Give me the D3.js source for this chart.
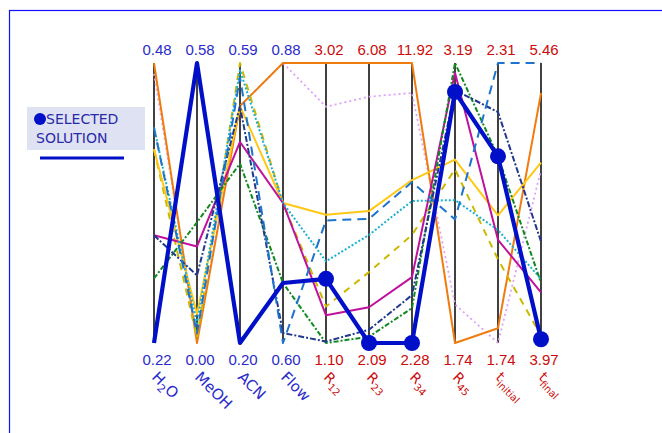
<!DOCTYPE html>
<html>
<head>
<meta charset="utf-8">
<script src="https://cdn.jsdelivr.net/npm/d3@7"></script>
<style>
  body { margin: 0; background: #fff; }
  svg { display: block; }
</style>
</head>
<body>
<script>
var width = 662;
var height = 433;

// axes: key, bottom (min) and top (max) values
var axisKeys = ["h2o", "meoh", "acn", "flow", "r12", "r23", "r34", "r45", "tini", "tfin"];
var axisMin = [0.22, 0.00, 0.20, 0.60, 1.10, 2.09, 2.28, 1.74, 1.74, 3.97];
var axisMax = [0.48, 0.58, 0.59, 0.88, 3.02, 6.08, 11.92, 3.19, 2.31, 5.46];
var minLabels = ["0.22", "0.00", "0.20", "0.60", "1.10", "2.09", "2.28", "1.74", "1.74", "3.97"];
var maxLabels = ["0.48", "0.58", "0.59", "0.88", "3.02", "6.08", "11.92", "3.19", "2.31", "5.46"];
// axis name: main text + subscript
var axisNames = [["H", "2", "O"], ["MeOH", "", ""], ["ACN", "", ""], ["Flow", "", ""],
                 ["R", "12", ""], ["R", "23", ""], ["R", "34", ""], ["R", "45", ""],
                 ["t", "initial", ""], ["t", "final", ""]];
var inputCount = 4;

// candidate solutions, one value per axis
var orangeSol  = [0.48, 0.00, 0.53, 0.88, 3.02, 6.08, 11.92, 1.74, 1.77, 5.30];
var magentaSol = [0.32, 0.20, 0.48, 0.74, 1.29, 2.60, 4.55, 3.14, 1.95, 4.24];
var goldSol    = [0.40, 0.06, 0.53, 0.74, 1.98, 3.97, 7.89, 2.69, 2.00, 4.93];
var pinkSol    = [0.47, 0.01, 0.53, 0.88, 2.72, 5.60, 10.89, 1.94, 1.74, 4.89];
var cyanSol    = [0.42, 0.04, 0.58, 0.74, 1.66, 3.63, 7.17, 2.48, 1.97, 4.31];
var blueSol    = [0.42, 0.02, 0.57, 0.60, 1.94, 3.86, 7.82, 2.38, 2.31, 5.46];
var navySol    = [0.32, 0.14, 0.53, 0.61, 1.11, 2.28, 3.93, 3.05, 2.21, 4.51];
var greenSol   = [0.28, 0.25, 0.45, 0.66, 1.10, 2.18, 3.48, 3.19, 2.12, 4.29];
var oliveSol   = [0.40, 0.01, 0.59, 0.74, 1.35, 3.10, 6.00, 2.64, 1.91, 4.01];
var selectedSol = [0.22, 0.58, 0.20, 0.66, 1.54, 2.09, 2.28, 3.04, 2.12, 3.99];

var series = [
    {values: pinkSol,    color: "#dea0fa", width: 1.8, dash: "2,3"},
    {values: orangeSol,  color: "#f07c10", width: 2,   dash: null},
    {values: oliveSol,   color: "#cdb800", width: 2,   dash: "7,6"},
    {values: goldSol,    color: "#ffc814", width: 2,   dash: null},
    {values: magentaSol, color: "#c0109c", width: 2,   dash: null},
    {values: cyanSol,    color: "#18b0d0", width: 2,   dash: "2,2"},
    {values: greenSol,   color: "#108a20", width: 2,   dash: "5,2,2,2"},
    {values: navySol,    color: "#22388e", width: 2,   dash: "6,2,2,2"},
    {values: blueSol,    color: "#1c74cc", width: 2,   dash: "9,6"}
];

var blueText = "#2a2acc";
var redText = "#cc0a0a";
var selColor = "#0010c8";

var svg = d3.select("body").append("svg")
    .attr("width", width)
    .attr("height", height);

// outer frame (runs off the right and bottom)
svg.append("rect")
    .attr("x", 9.5).attr("y", 10.5)
    .attr("width", 720).attr("height", 500)
    .attr("fill", "none")
    .attr("stroke", "#1010ff")
    .attr("stroke-width", 1.2);

var x = d3.scalePoint().domain(axisKeys).range([154, 541]);
var yTop = 63, yBottom = 343;
var yScales = axisKeys.map(function (k, i) {
    return d3.scaleLinear().domain([axisMin[i], axisMax[i]]).range([yBottom, yTop]);
});

// axis lines
svg.append("g").selectAll("line")
    .data(axisKeys)
    .enter().append("line")
    .attr("x1", function (d) { return x(d); })
    .attr("x2", function (d) { return x(d); })
    .attr("y1", yTop)
    .attr("y2", yBottom)
    .attr("stroke", "#111")
    .attr("stroke-width", 1.6);

var line = d3.line()
    .x(function (d, i) { return x(axisKeys[i]); })
    .y(function (d, i) { return yScales[i](d); });

svg.append("g").selectAll("path")
    .data(series)
    .enter().append("path")
    .attr("d", function (d) { return line(d.values); })
    .attr("fill", "none")
    .attr("stroke", function (d) { return d.color; })
    .attr("stroke-width", function (d) { return d.width; })
    .attr("stroke-dasharray", function (d) { return d.dash; })
    .attr("stroke-linejoin", "round");

// selected solution
svg.append("path")
    .attr("d", line(selectedSol))
    .attr("fill", "none")
    .attr("stroke", selColor)
    .attr("stroke-width", 4.2)
    .attr("stroke-linejoin", "round");

svg.append("g").selectAll("circle")
    .data(selectedSol.slice(inputCount))
    .enter().append("circle")
    .attr("cx", function (d, i) { return x(axisKeys[i + inputCount]); })
    .attr("cy", function (d, i) { return yScales[i + inputCount](d); })
    .attr("r", 8)
    .attr("fill", selColor);

// top / bottom value labels
function colorFor(i) { return i < inputCount ? blueText : redText; }

svg.append("g").selectAll("text")
    .data(maxLabels)
    .enter().append("text")
    .attr("x", function (d, i) { return x(axisKeys[i]) + 3; })
    .attr("y", 55)
    .attr("text-anchor", "middle")
    .attr("font-family", "Liberation Sans, Arial, sans-serif")
    .attr("font-size", 15)
    .attr("fill", function (d, i) { return colorFor(i); })
    .text(function (d) { return d; });

svg.append("g").selectAll("text")
    .data(minLabels)
    .enter().append("text")
    .attr("x", function (d, i) { return x(axisKeys[i]) + 3; })
    .attr("y", 365)
    .attr("text-anchor", "middle")
    .attr("font-family", "Liberation Sans, Arial, sans-serif")
    .attr("font-size", 15)
    .attr("fill", function (d, i) { return colorFor(i); })
    .text(function (d) { return d; });

// rotated axis names
var names = svg.append("g").selectAll("text")
    .data(axisNames)
    .enter().append("text")
    .attr("transform", function (d, i) {
        return "translate(" + (x(axisKeys[i]) - 3) + ",378) rotate(45)";
    })
    .attr("font-family", "Comic Sans MS, DejaVu Sans, sans-serif")
    .attr("font-size", function (d, i) { return i < inputCount ? 15 : 14; })
    .attr("fill", function (d, i) { return colorFor(i); });

names.append("tspan").text(function (d) { return d[0]; });
names.append("tspan")
    .attr("dy", 4)
    .attr("font-size", function (d, i) { return i < inputCount ? 11 : 10; })
    .text(function (d) { return d[1]; });
names.append("tspan")
    .attr("dy", -4)
    .text(function (d) { return d[2]; });

// legend
var legend = svg.append("g");
legend.append("rect")
    .attr("x", 27).attr("y", 107)
    .attr("width", 118).attr("height", 43)
    .attr("fill", "#dfe2f2");
legend.append("circle")
    .attr("cx", 40).attr("cy", 119).attr("r", 6)
    .attr("fill", selColor);
legend.append("text")
    .attr("x", 46).attr("y", 124)
    .attr("font-family", "Comic Sans MS, DejaVu Sans, sans-serif")
    .attr("font-size", 14)
    .attr("fill", "#2a2aaa")
    .text("SELECTED");
legend.append("text")
    .attr("x", 36).attr("y", 143)
    .attr("font-family", "Comic Sans MS, DejaVu Sans, sans-serif")
    .attr("font-size", 14)
    .attr("fill", "#2a2aaa")
    .text("SOLUTION");
legend.append("line")
    .attr("x1", 40).attr("x2", 124)
    .attr("y1", 158).attr("y2", 158)
    .attr("stroke", selColor)
    .attr("stroke-width", 3);
</script>
</body>
</html>
